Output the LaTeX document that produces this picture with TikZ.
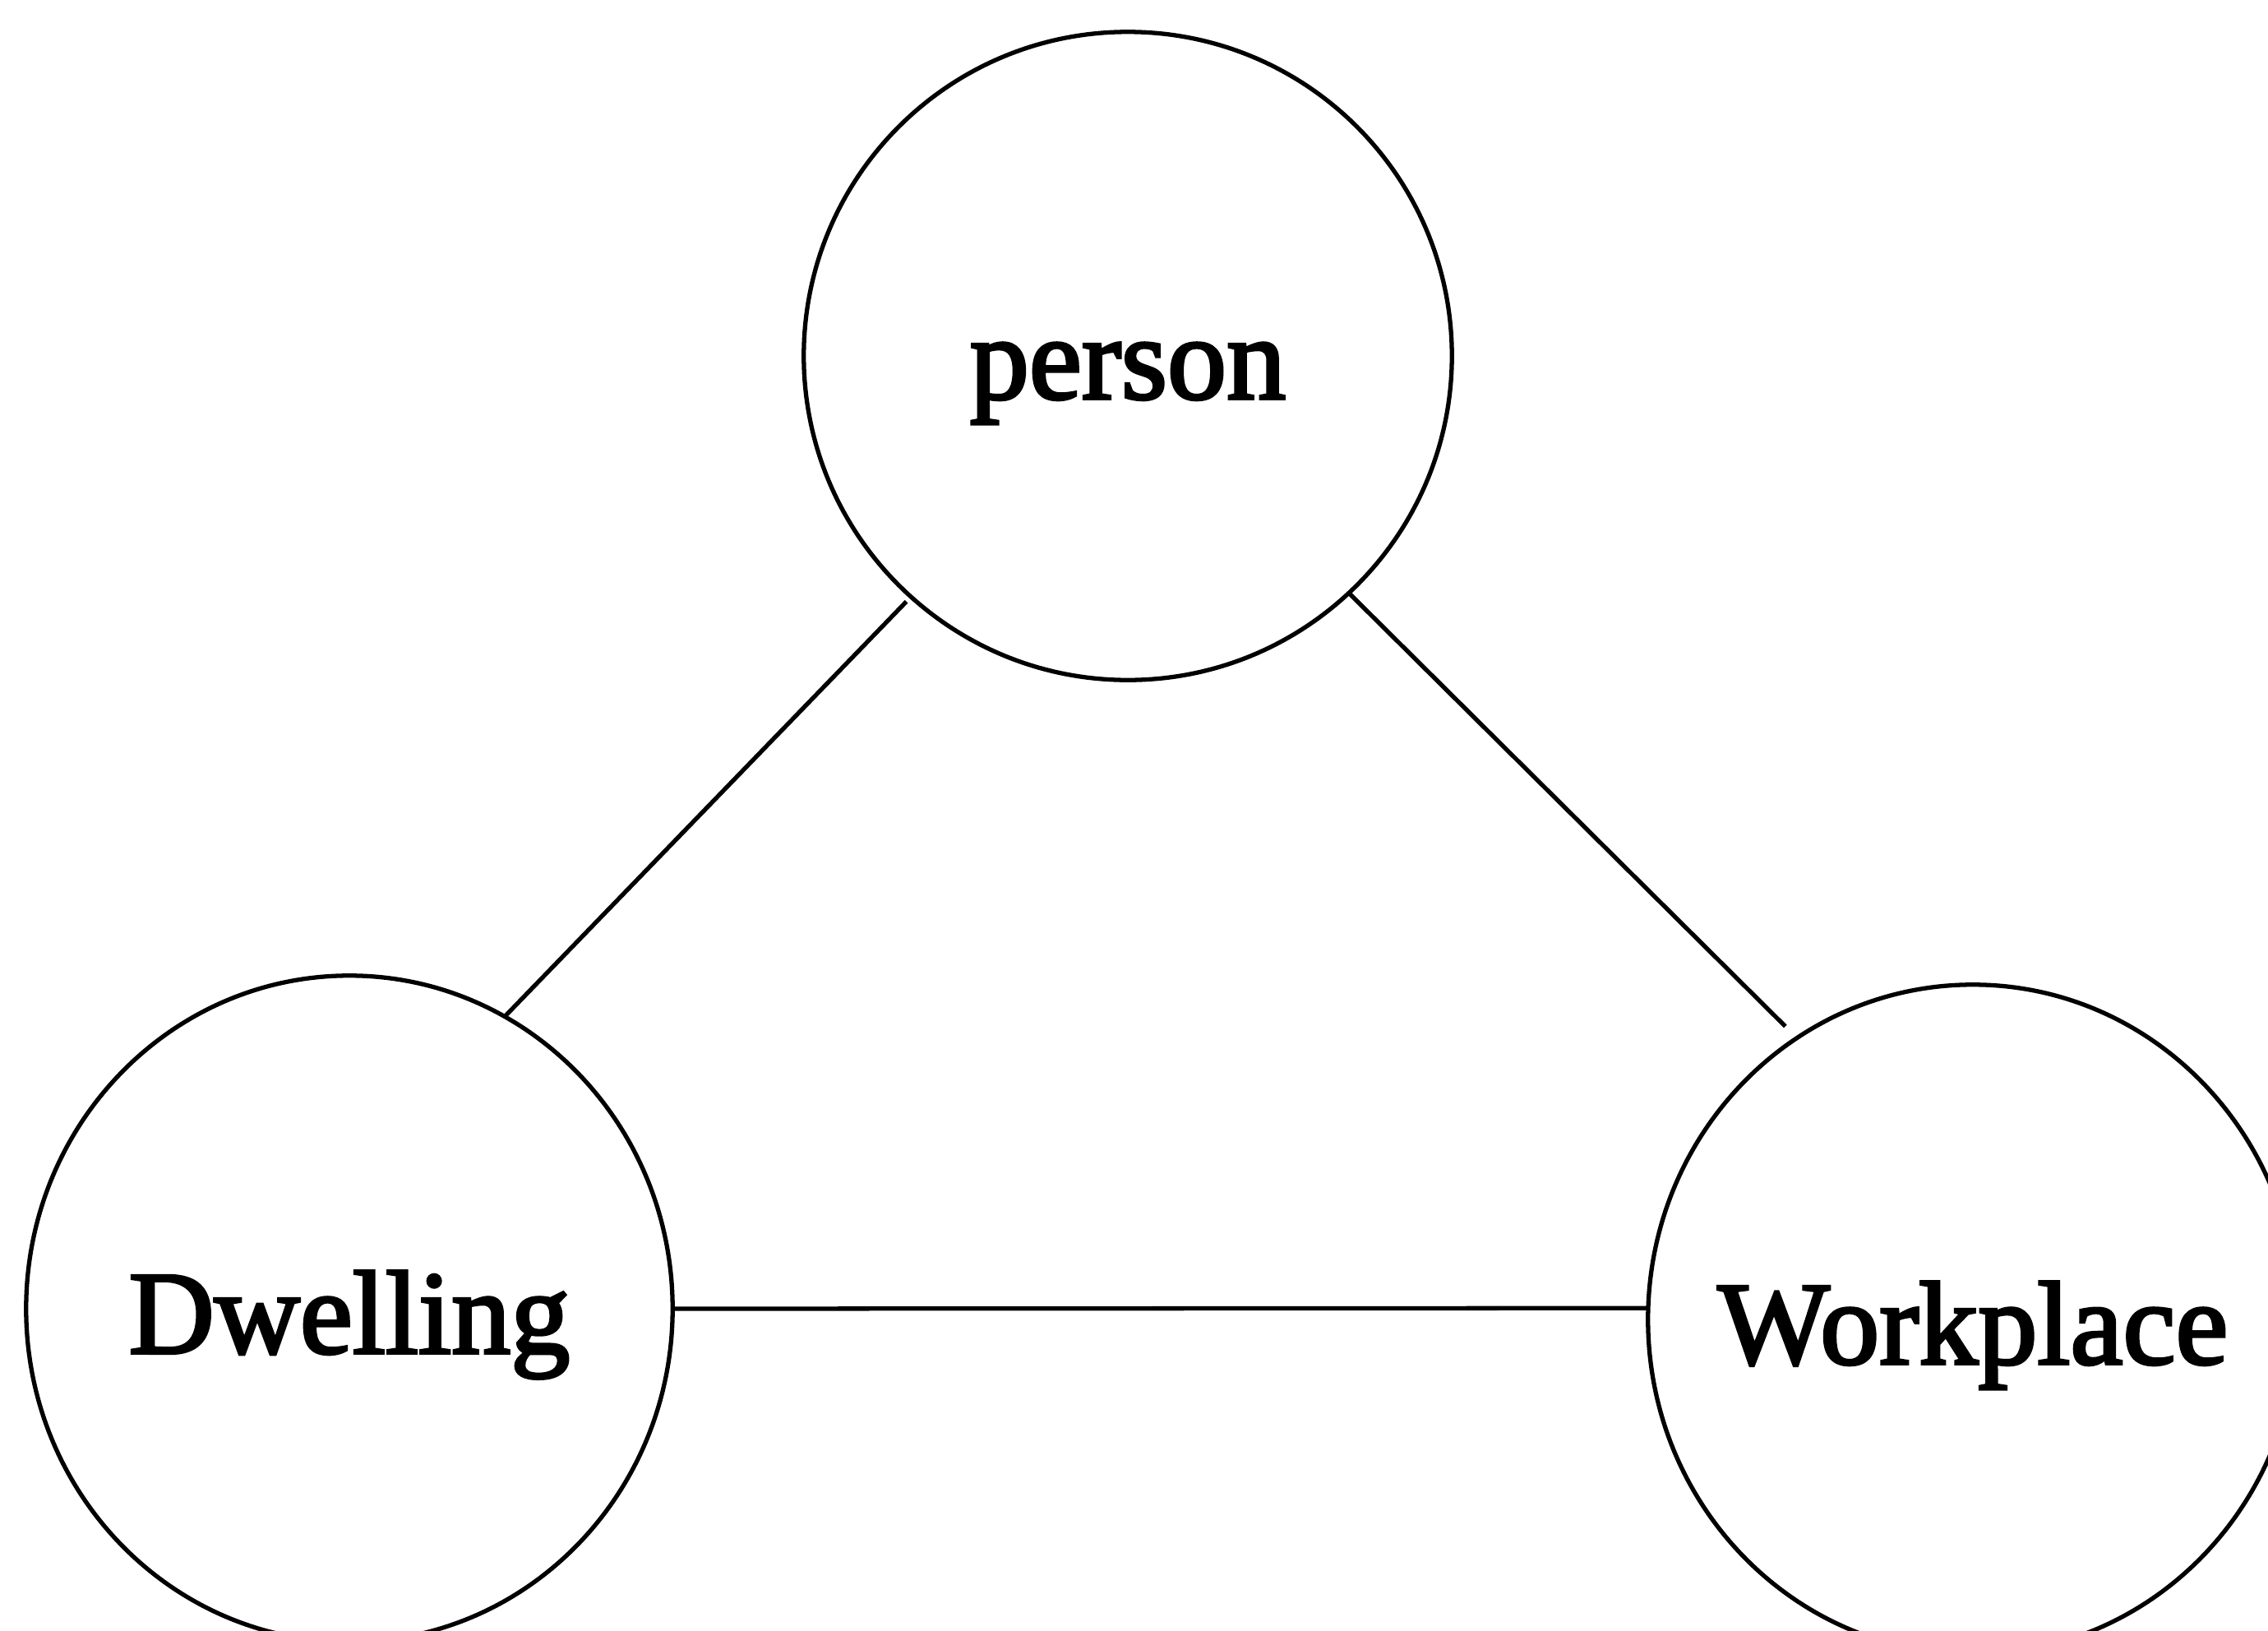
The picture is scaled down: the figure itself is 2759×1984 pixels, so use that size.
\documentclass[tikz,border=0pt]{standalone}
\usepackage{fontspec}
\setmainfont{Liberation Serif}
\newfontfamily\heavyserif[FakeBold=2.6]{Liberation Serif}
\usetikzlibrary{shapes.geometric}
\begin{document}
\begin{tikzpicture}[x=0.01cm,y=-0.01cm,
  ent/.style={draw=black, line width=1.5pt, inner sep=0pt, outer sep=0pt,
    font=\heavyserif\fontsize{41}{49}\selectfont, text height=1.08cm, text depth=0pt},
  link/.style={draw=black, line width=1.5pt}]
\clip (0,0) rectangle (2759,1984);
\fill[white] (0,0) rectangle (2759,1984);
\node[ent, circle, minimum size=7.88cm, text height=1.04cm] (person) at (1372,433) {\makebox[0pt]{person}};
\node[ent, ellipse, minimum width=7.86cm, minimum height=8.10cm] (dwell) at (425,1592) {\makebox[0pt]{Dwelling}};
\node[ent, ellipse, minimum width=7.90cm, minimum height=8.14cm] (work) at (2400,1605) {\makebox[0pt]{Workplace}};
\draw[link, shorten <=0.08cm] (person.228.3) -- (dwell.62.5);
\draw[link, shorten >=0.2cm] (person.313.4) -- (work.122.7);
\draw[link] (dwell.-0.6) -- (work.178.1);
\end{tikzpicture}
\end{document}
